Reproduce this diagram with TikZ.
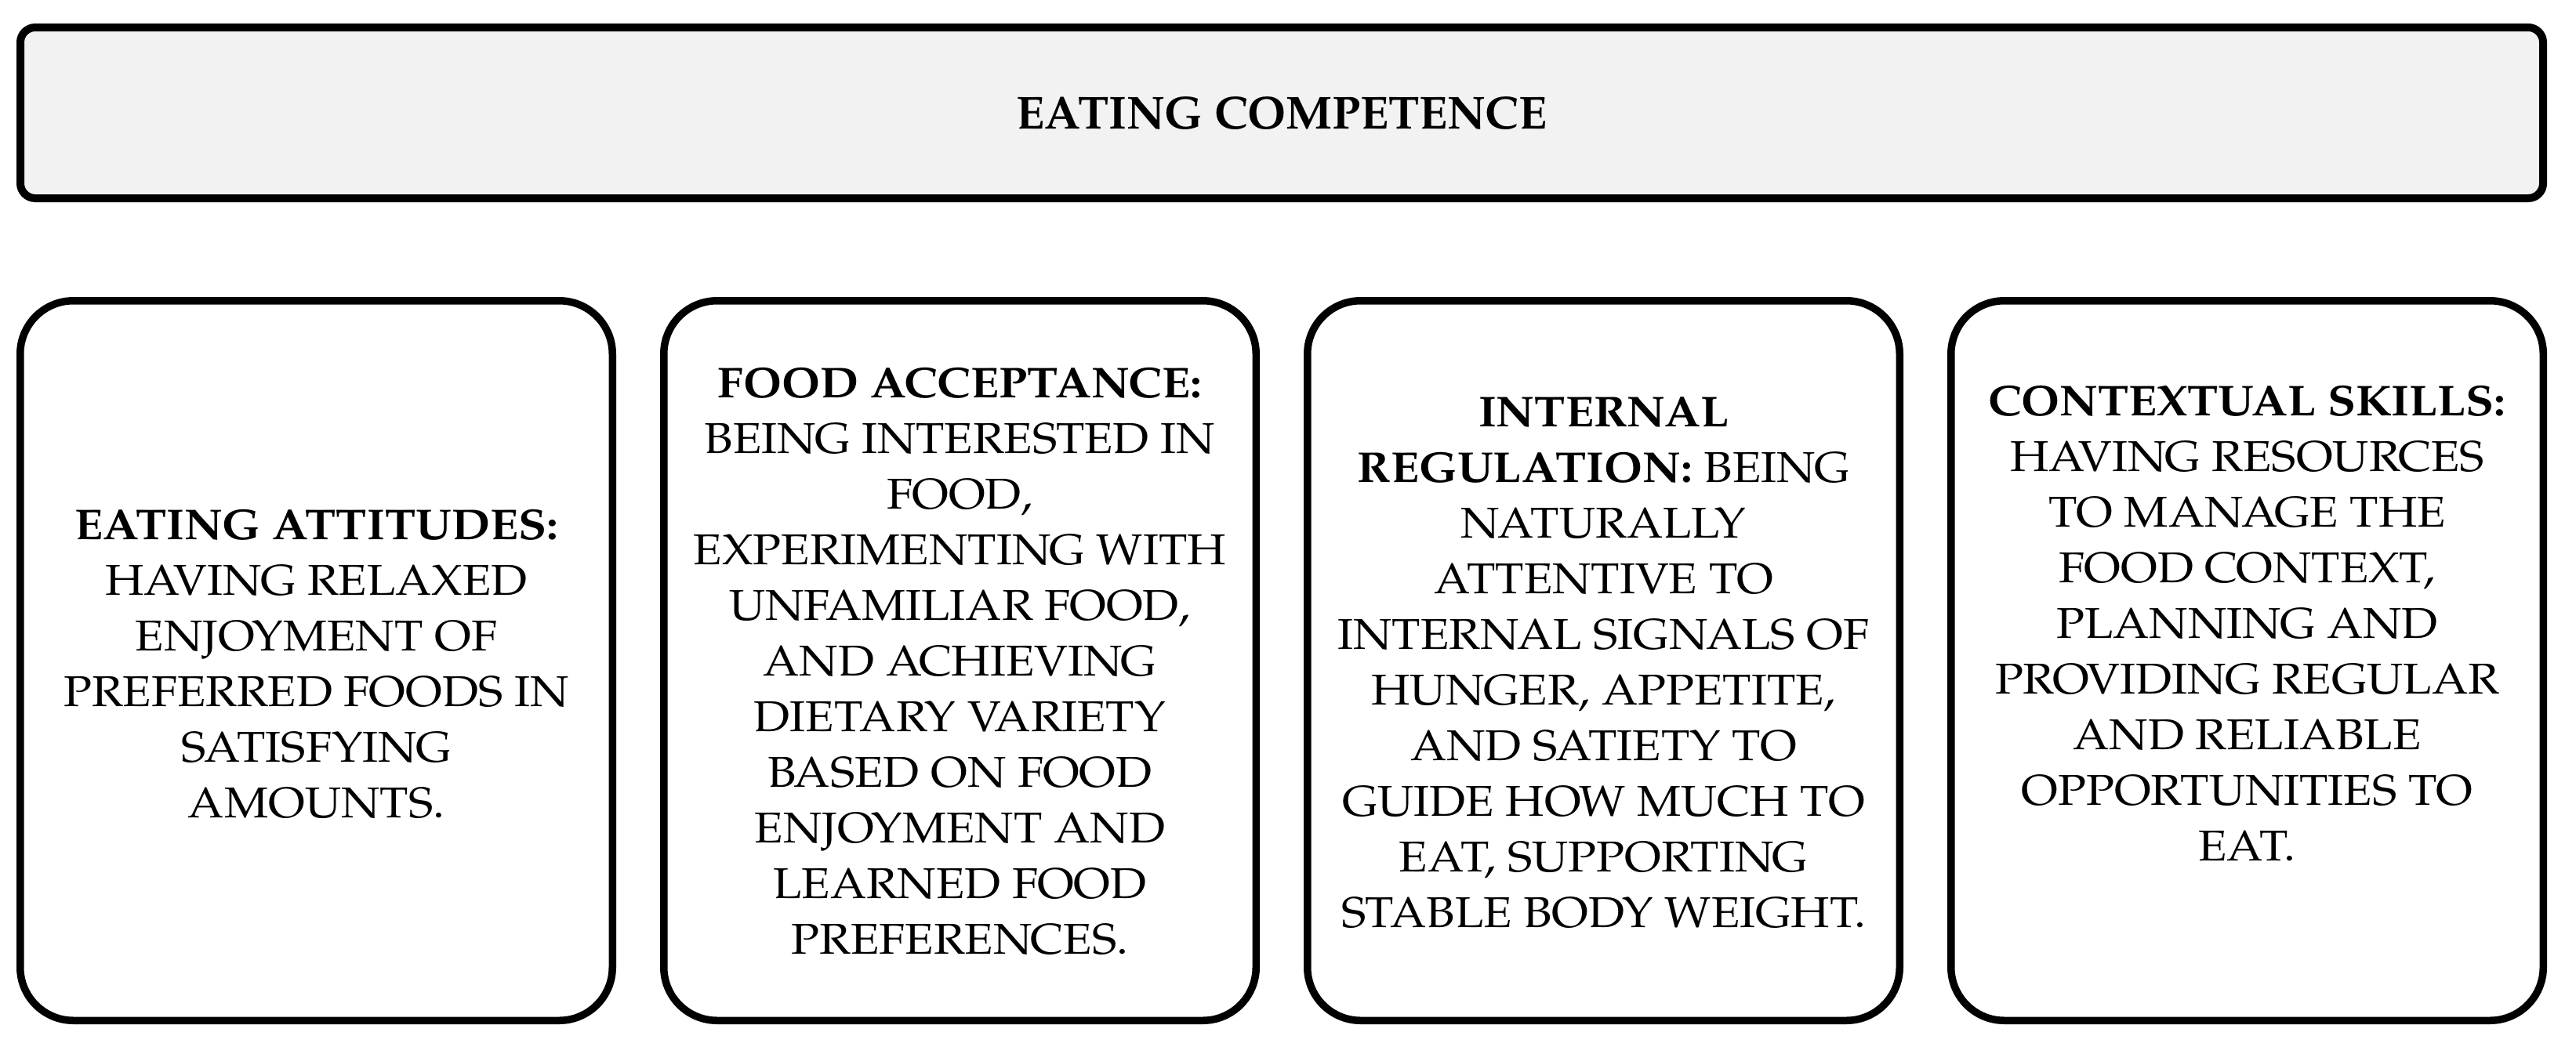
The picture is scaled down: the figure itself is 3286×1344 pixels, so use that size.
\documentclass[tikz,border=0pt]{standalone}
\usepackage{fontspec}
\setmainfont{texgyrepagella}[Extension=.otf, UprightFont=*-regular, BoldFont=*-bold, ItalicFont=*-italic, BoldItalicFont=*-bolditalic]
\newfontfamily\cardfont{texgyrepagella}[Extension=.otf, UprightFont=*-regular, BoldFont=*-bold,
  UprightFeatures={FakeStretch=1.08}, BoldFeatures={FakeStretch=1.07}]
\definecolor{topgray}{HTML}{F2F2F2}
\tikzset{
  topbox/.style={draw=black, line width=10pt, fill=topgray, rounded corners=19pt,
    minimum width=3218pt, minimum height=218pt, inner sep=0pt,
    font=\fontsize{59}{71}\selectfont\bfseries},
  card/.style={draw=black, line width=9.5pt, fill=white, rounded corners=68pt,
    minimum width=755.5pt, minimum height=918.5pt, inner sep=0pt},
  cardtext/.style={anchor=north, inner sep=0pt, align=center,
    font=\cardfont\fontsize{55}{71}\selectfont},
}
\newcommand{\capstrut}{\rule{0pt}{40pt}}
\begin{document}
\begin{tikzpicture}[x=1pt, y=-1pt]
\useasboundingbox (0,0) rectangle (3286,1344);

\node[topbox] (top) at (1635,144) {EATING COMPETENCE};

\node[card] (c1) at (403.5,843) {};
\node[card] (c2) at (1224.5,843) {};
\node[card] (c3) at (2045.5,843) {};
\node[card] (c4) at (2866.5,843) {};

\node[cardtext] (t1) at (403.5,648) {\capstrut\textbf{EATING ATTITUDES:}\\
HAVING RELAXED\\ ENJOYMENT OF\\ PREFERRED FOODS IN\\ SATISFYING\\ AMOUNTS.};

\node[cardtext] (t2) at (1224.5,467) {\capstrut\textbf{FOOD ACCEPTANCE:}\\
BEING INTERESTED IN\\ FOOD,\\ EXPERIMENTING WITH\\ UNFAMILIAR FOOD,\\ AND ACHIEVING\\
DIETARY VARIETY\\ BASED ON FOOD\\ ENJOYMENT AND\\ LEARNED FOOD\\ PREFERENCES.};

\node[cardtext] (t3) at (2045.5,504) {\capstrut\textbf{INTERNAL}\\
\textbf{REGULATION:} BEING\\ NATURALLY\\ ATTENTIVE TO\\ INTERNAL SIGNALS OF\\
HUNGER, APPETITE,\\ AND SATIETY TO\\ GUIDE HOW MUCH TO\\ EAT, SUPPORTING\\ STABLE BODY WEIGHT.};

\node[cardtext] (t4) at (2866.5,490) {\capstrut\textbf{CONTEXTUAL SKILLS:}\\
HAVING RESOURCES\\ TO MANAGE THE\\ FOOD CONTEXT,\\ PLANNING AND\\
PROVIDING REGULAR\\ AND RELIABLE\\ OPPORTUNITIES TO\\ EAT.};
\end{tikzpicture}
\end{document}
